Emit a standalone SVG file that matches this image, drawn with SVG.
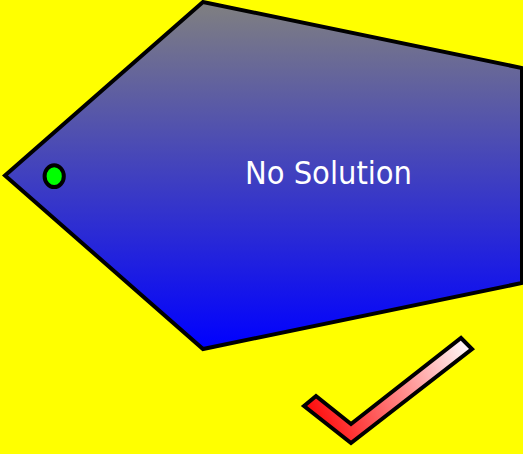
<svg xmlns="http://www.w3.org/2000/svg" width="523" height="454" viewBox="0 0 523 454">
<defs>
<linearGradient id="gBody" x1="0" y1="2" x2="0" y2="349" gradientUnits="userSpaceOnUse">
<stop offset="0" stop-color="#808080"/>
<stop offset="1" stop-color="#0000ff"/>
</linearGradient>
<linearGradient id="gCheck" x1="304" y1="420" x2="472" y2="340" gradientUnits="userSpaceOnUse">
<stop offset="0" stop-color="#ff0000"/>
<stop offset="1" stop-color="#ffffff"/>
</linearGradient>
<style>
.outline{stroke:#000;stroke-width:4;stroke-linejoin:miter}
.label{font-family:"DejaVu Sans Condensed","DejaVu Sans",sans-serif;font-size:32.3px;fill:#fff}
</style>
</defs>
<rect x="0" y="0" width="523" height="454" fill="#ffff00"/>
<g id="body">
<polygon class="outline" points="5,175.5 203,2 522,68 522,283 203,349" fill="url(#gBody)"/>
<text class="label" x="328.5" y="183.5" text-anchor="middle">No Solution</text>
</g>
<g id="dot">
<ellipse class="outline" cx="54.2" cy="176.2" rx="9.6" ry="10.9" fill="#00ff00"/>
</g>
<g id="check">
<polygon class="outline" points="304,406 316,396 351,424 461,338 472,349 351,443" fill="url(#gCheck)"/>
</g>
<g id="connectors"/>
</svg>
